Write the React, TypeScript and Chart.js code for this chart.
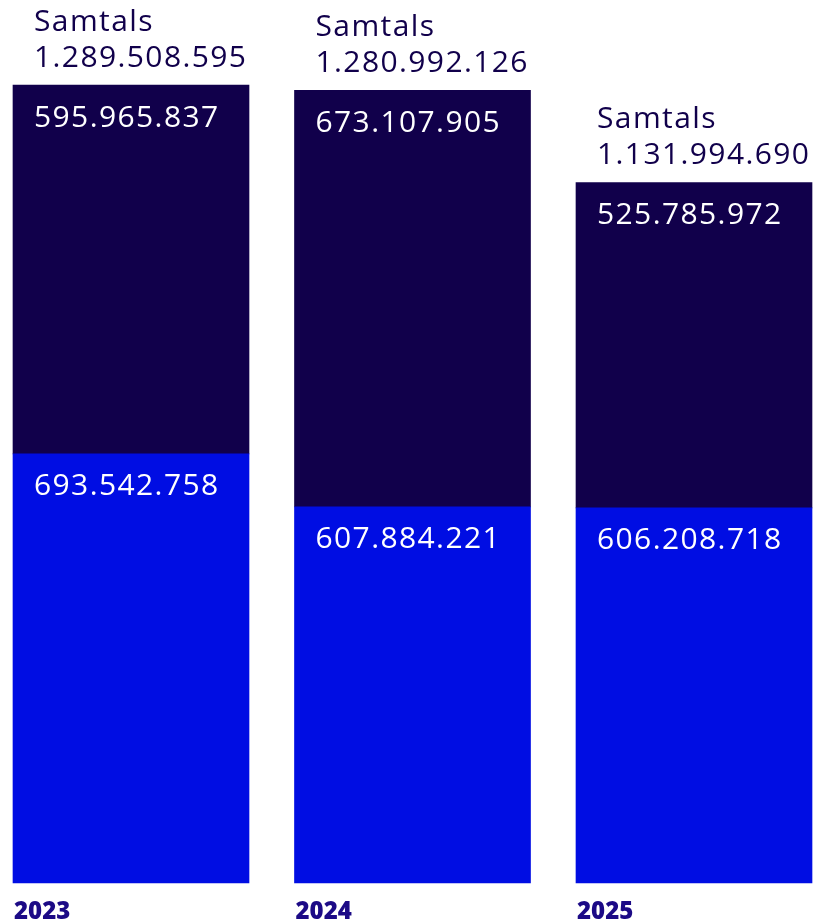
import React, { useEffect, useRef } from "react";
import { Chart, registerables } from "chart.js";

Chart.register(...registerables);

const years = ["2023", "2024", "2025"];
const lowerValues = [693542758, 607884221, 606208718];
const upperValues = [595965837, 673107905, 525785972];
const totalLabel = "Samtals";

const fmt = (n: number) => n.toString().replace(/\B(?=(\d{3})+(?!\d))/g, ".");

const NAVY = "#11004b";
const BLUE = "#000de3";
const FONT = "'Open Sans', sans-serif";

const labelPlugin = {
  id: "barLabels",
  afterDatasetsDraw(chart: any) {
    const ctx = chart.ctx;
    ctx.save();
    ctx.textBaseline = "middle";
    ctx.textAlign = "left";
    try { (ctx as any).letterSpacing = "1.4px"; } catch (e) {}
    chart.data.datasets.forEach((ds: any, di: number) => {
      const meta = chart.getDatasetMeta(di);
      meta.data.forEach((el: any, i: number) => {
        const p = el.getProps(["x", "y", "base", "width"], true);
        const left = p.x - p.width / 2 + 21;
        ctx.fillStyle = "#ffffff";
        ctx.font = `500 30px ${FONT}`;
        ctx.fillText(fmt(ds.data[i]), left, p.y + 33);
        if (di === chart.data.datasets.length - 1) {
          const total = chart.data.datasets.reduce((s: number, d: any) => s + d.data[i], 0);
          ctx.fillStyle = NAVY;
          ctx.fillText(totalLabel, left, p.y - 63);
          ctx.fillText(fmt(total), left, p.y - 27);
        }
      });
    });
    ctx.restore();
  },
};

export default function App() {
  const ref = useRef<HTMLCanvasElement>(null);
  useEffect(() => {
    const totals = years.map((_, i) => lowerValues[i] + upperValues[i]);
    const chart = new Chart(ref.current!, {
      type: "bar",
      data: {
        labels: years,
        datasets: [
          { data: lowerValues, backgroundColor: BLUE, barThickness: 236, clip: false as any },
          { data: upperValues, backgroundColor: NAVY, barThickness: 236, clip: false as any },
        ],
      },
      options: {
        responsive: false,
        animation: false,
        layout: { padding: { top: 85, left: 131, right: 123, bottom: 0 } },
        plugins: { legend: { display: false }, tooltip: { enabled: false } },
        scales: {
          x: {
            stacked: true,
            offset: false,
            grid: { display: false },
            border: { display: false },
            afterFit: (scale: any) => { scale.height = 38; },
            ticks: {
              align: "start",
              labelOffset: -117,
              padding: 7,
              color: "#1c0a86",
              font: { family: FONT, size: 24, weight: "800" as any },
              maxRotation: 0,
              autoSkip: false,
            },
          },
          y: {
            stacked: true,
            display: false,
            min: 0,
            max: Math.max(...totals),
          },
        },
      },
      plugins: [labelPlugin],
    });
    return () => chart.destroy();
  }, []);
  return (
    <div style={{ position: "absolute", left: 0, top: 0, width: 817, height: 921, background: "#fff" }}>
      <canvas ref={ref} width={817} height={921} style={{ display: "block" }} />
    </div>
  );
}
